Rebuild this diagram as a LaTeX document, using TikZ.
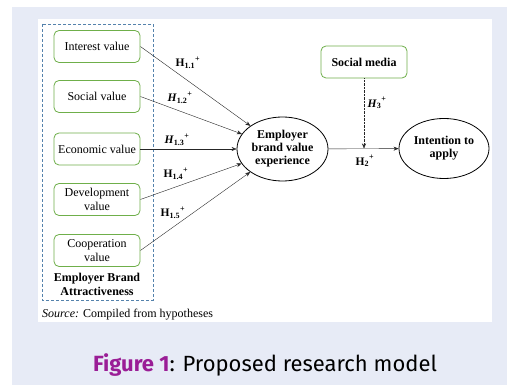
\documentclass[tikz,border=0pt]{standalone}
\usepackage{fontspec}
\setmainfont{Liberation Serif}
\newfontfamily\capfont{Fira Sans}
\usetikzlibrary{arrows.meta,shapes.geometric}
\definecolor{bgblue}{HTML}{E7EBF6}
\definecolor{boxgreen}{HTML}{6FAF4A}
\definecolor{dashblue}{HTML}{5482AC}
\definecolor{figpurple}{HTML}{9A1D96}
\begin{document}
\begin{tikzpicture}[x=1pt,y=-1pt,
  gbox/.style={draw=boxgreen,rounded corners=5pt,line width=0.8pt,minimum width=86pt,minimum height=32pt,align=center,font=\fontsize{12}{13.5}\selectfont,inner sep=1pt},
  ell/.style={draw,ellipse,line width=0.8pt,align=center,font=\bfseries\fontsize{12}{13}\selectfont,inner sep=0pt},
  arr/.style={-{Stealth[length=5pt,width=4pt]},line width=0.4pt,draw=black!85},
  hlab/.style={font=\bfseries\fontsize{11.5}{13}\selectfont,inner sep=0pt}]
\useasboundingbox (0,0) rectangle (507,385);
\fill[white] (0,0) rectangle (507,385);
\fill[bgblue] (12,7) rectangle (507,385);
\fill[white] (38,19) rectangle (492,322);
\draw[dashblue,line width=0.8pt,dash pattern=on 3pt off 2pt] (42,24) rectangle (153,300);
\node[gbox] (iv) at (97,46.5) {Interest value};
\node[gbox] (sv) at (97,96.5) {Social value};
\node[gbox] (ev) at (97,149) {Economic value};
\node[gbox] (dv) at (97,199.5) {Development\\value};
\node[gbox] (cv) at (97,250.5) {Cooperation\\value};
\node[font=\bfseries\fontsize{12}{13.5}\selectfont,align=center] (eba) at (97,284.5) {Employer Brand\\Attractiveness};
\node[anchor=base west,font=\fontsize{12}{13}\selectfont,inner sep=0pt] (src) at (42,318) {\textit{Source:} Compiled from hypotheses};
\node[ell,minimum width=91pt,minimum height=64pt] (ebv) at (282.5,149) {Employer\\brand value\\experience};
\node[ell,minimum width=90pt,minimum height=60pt] (ita) at (444,148.5) {Intention to\\apply};
\node[gbox,font=\bfseries\fontsize{12}{13}\selectfont] (sm) at (364,62) {Social media};
\draw[arr] (iv.east) -- (ebv);
\draw[arr] (sv.east) -- (ebv);
\draw[arr] (ev.east) -- (ebv);
\draw[arr] (dv.east) -- (ebv);
\draw[arr] (cv.east) -- (ebv);
\draw[arr] (ebv) -- (ita);
\coordinate (mid) at (364,148.5);
\draw[arr,densely dotted] (sm.south) -- (mid);
\node[hlab] (h11) at (188,63) {H\textsubscript{1.1}\raisebox{1pt}{\textsuperscript{+}}};
\node[hlab] (h12) at (180,98) {\textit{H}\textsubscript{1.2}\raisebox{1pt}{\textsuperscript{+}}};
\node[hlab] (h13) at (177,140) {\textit{H}\textsubscript{1.3}\raisebox{1pt}{\textsuperscript{+}}};
\node[hlab] (h14) at (176,174) {H\textsubscript{1.4}\raisebox{1pt}{\textsuperscript{+}}};
\node[hlab] (h15) at (173,213) {H\textsubscript{1.5}\raisebox{1pt}{\textsuperscript{+}}};
\node[hlab] (h3) at (377,103) {\textit{H}\textsubscript{3}\raisebox{1pt}{\textsuperscript{+}}};
\node[hlab] (h2) at (365,161) {H\textsubscript{2}\raisebox{1pt}{\textsuperscript{+}}};
\node[anchor=base,font=\capfont\fontsize{22}{24}\selectfont,inner sep=0pt] (cap) at (265,372) {\textcolor{figpurple}{\bfseries Figure 1}: Proposed research model};
\end{tikzpicture}
\end{document}
